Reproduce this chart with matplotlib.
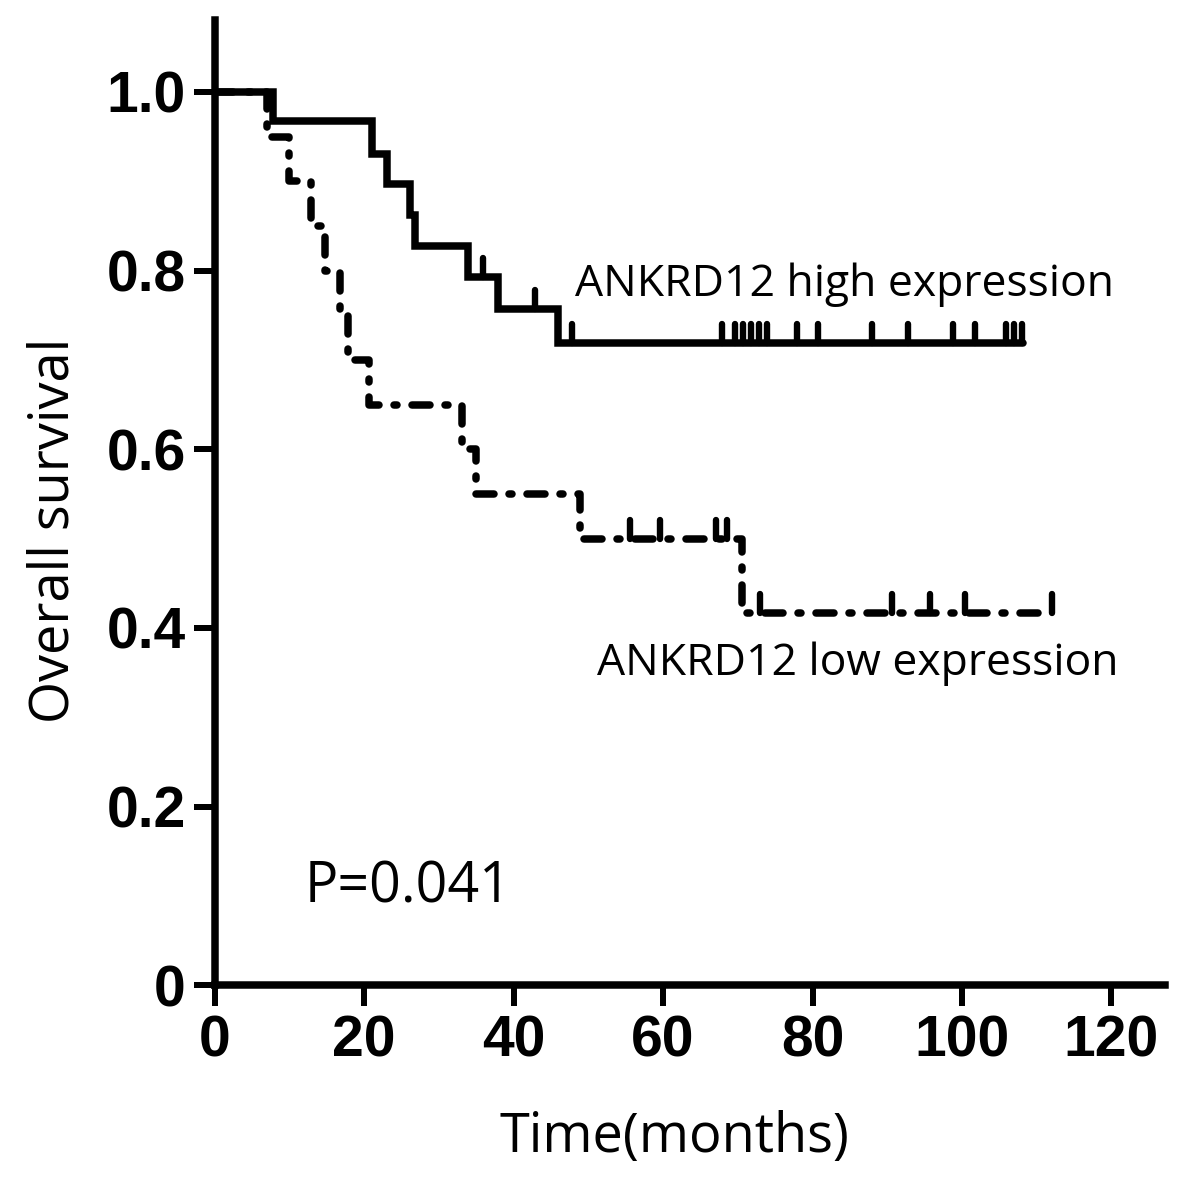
import matplotlib

matplotlib.use("Agg")
import matplotlib.pyplot as plt
import numpy as np

# high expression group (solid)
HIGH_DROP_T = [7.8, 21.0, 23.0, 26.1, 26.8, 33.9, 37.9, 45.9]
HIGH_DROP_S = [0.967, 0.931, 0.897, 0.862, 0.828, 0.793, 0.757, 0.719]
HIGH_END = 108.2
HIGH_CENSOR = [35.9, 42.8, 47.8, 67.9, 69.6, 70.7, 71.8, 72.8, 73.9, 77.9,
               80.7, 88.0, 92.8, 98.8, 101.7, 105.9, 107.0, 108.0]

# low expression group (dashed)
LOW_DROP_T = [7.0, 9.9, 12.9, 14.8, 16.7, 17.8, 20.7, 33.1, 35.0, 48.9, 70.6]
LOW_DROP_S = [0.95, 0.90, 0.85, 0.80, 0.75, 0.70, 0.65, 0.60, 0.55, 0.50, 0.417]
LOW_END = 112.0
LOW_CENSOR = [55.6, 59.6, 67.1, 68.5, 73.0, 90.6, 95.7, 100.4, 112.0]

X_TICKS = [0, 20, 40, 60, 80, 100, 120]
Y_TICKS = [0, 0.2, 0.4, 0.6, 0.8, 1.0]
Y_TICK_LABELS = ["0", "0.2", "0.4", "0.6", "0.8", "1.0"]

LABEL_HIGH = "ANKRD12 high expression"
LABEL_LOW = "ANKRD12 low expression"
P_TEXT = "P=0.041"

LW = 5.4


def km_arrays(drop_t, drop_s, end):
    t = np.array([0.0] + list(drop_t) + [end])
    s = np.array([1.0] + list(drop_s) + [drop_s[-1]])
    return t, s


def surv_at(t, s, x):
    idx = np.searchsorted(t, x, side="right") - 1
    return s[np.clip(idx, 0, len(s) - 1)]


fig = plt.figure(figsize=(12, 12), dpi=100)
ax = fig.add_axes([0.179, 0.179, 0.792, 0.804])

t_hi, s_hi = km_arrays(HIGH_DROP_T, HIGH_DROP_S, HIGH_END)
t_lo, s_lo = km_arrays(LOW_DROP_T, LOW_DROP_S, LOW_END)

ax.step(t_hi, s_hi, where="post", color="black", lw=LW,
        solid_capstyle="round", solid_joinstyle="miter")
line_lo, = ax.step(t_lo, s_lo, where="post", color="black", lw=LW,
                   dash_capstyle="round")
line_lo.set_dashes((2.4, 2.0, 0.4, 2.0))

c_hi = surv_at(t_hi, s_hi, np.array(HIGH_CENSOR))
ax.vlines(HIGH_CENSOR, c_hi, c_hi + 0.021, color="black", lw=LW * 0.85,
          capstyle="round")
c_lo = surv_at(t_lo, s_lo, np.array(LOW_CENSOR))
ax.vlines(LOW_CENSOR, c_lo, c_lo + 0.021, color="black", lw=LW * 0.85,
          capstyle="round")

ax.set_xlim(0, 127.2)
ax.set_ylim(0, 1.08)
ax.set_xticks(X_TICKS)
ax.set_yticks(Y_TICKS)
ax.set_yticklabels(Y_TICK_LABELS)

for sp in ["top", "right"]:
    ax.spines[sp].set_visible(False)
for sp in ["left", "bottom"]:
    ax.spines[sp].set_linewidth(LW)
ax.tick_params(direction="out", length=15, width=LW * 0.8, pad=6)
for lab in ax.get_xticklabels() + ax.get_yticklabels():
    lab.set_fontfamily("Liberation Sans")
    lab.set_fontweight("heavy")
    lab.set_fontsize(41)

ax.set_xlabel("Time(months)", fontsize=39, family="Open Sans")
ax.set_ylabel("Overall survival", fontsize=39, family="Open Sans")
ax.xaxis.set_label_coords(0.484, -0.129)
ax.yaxis.set_label_coords(-0.14, 0.4715)

ax.text(48.2, 0.784, LABEL_HIGH, fontsize=32, family="Open Sans", va="center")
ax.text(51.1, 0.36, LABEL_LOW, fontsize=32, family="Open Sans", va="center")
ax.text(12.0, 0.109, P_TEXT, fontsize=40, family="Open Sans", va="center")

fig.savefig("out.png", dpi=100)
